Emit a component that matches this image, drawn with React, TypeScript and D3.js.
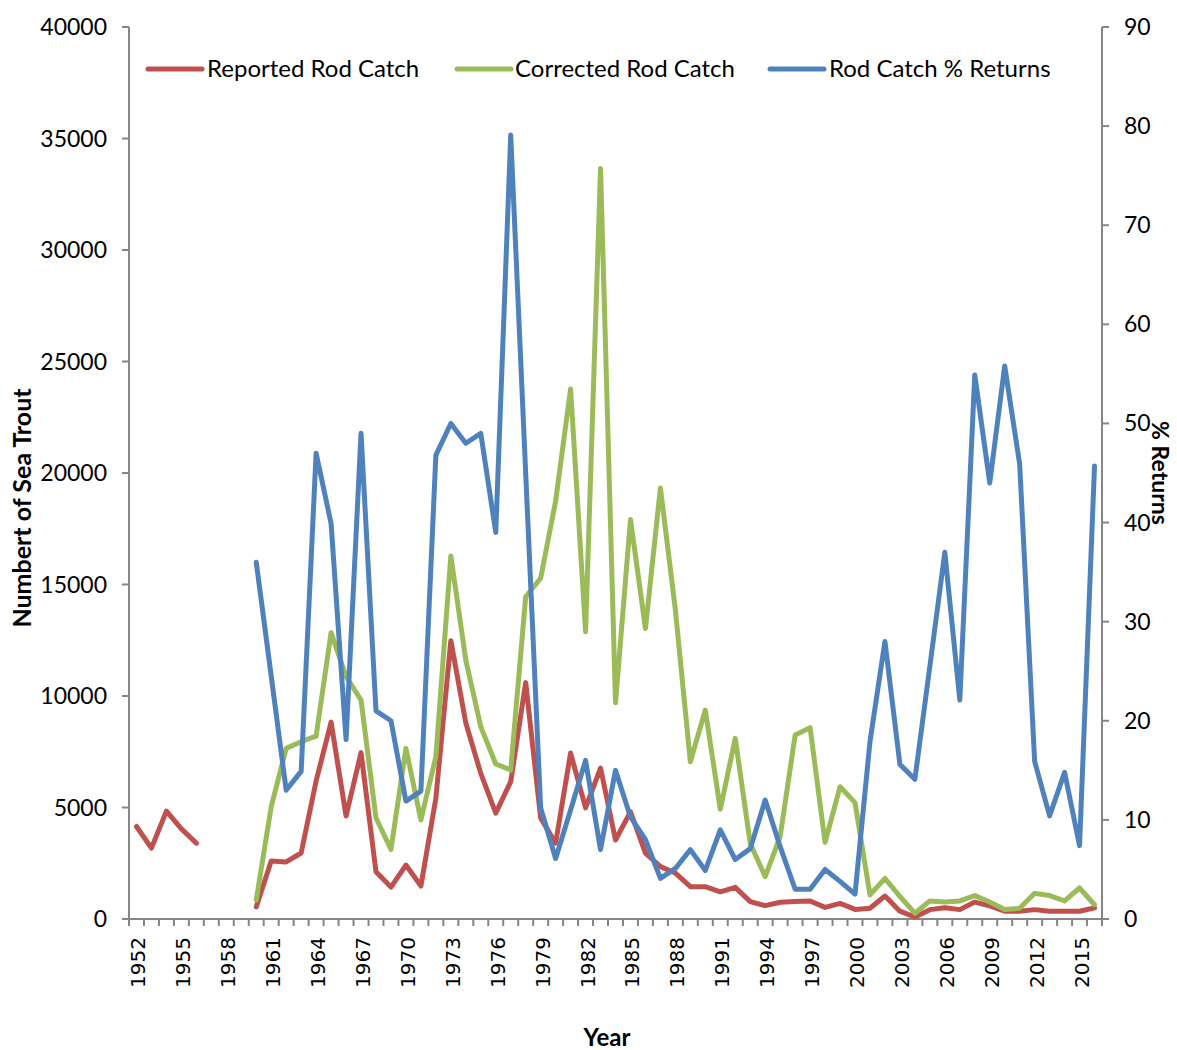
import React from "react";
import * as d3 from "d3";

const years: number[] = [
  1952, 1953, 1954, 1955, 1956, 1957, 1958, 1959, 1960, 1961, 1962, 1963, 1964,
  1965, 1966, 1967, 1968, 1969, 1970, 1971, 1972, 1973, 1974, 1975, 1976, 1977,
  1978, 1979, 1980, 1981, 1982, 1983, 1984, 1985, 1986, 1987, 1988, 1989, 1990,
  1991, 1992, 1993, 1994, 1995, 1996, 1997, 1998, 1999, 2000, 2001, 2002, 2003,
  2004, 2005, 2006, 2007, 2008, 2009, 2010, 2011, 2012, 2013, 2014, 2015, 2016,
];

const reported: (number | null)[] = [
  4150, 3180, 4840, 4040, 3400, null, null, null, 540, 2600, 2560, 2960, 6190,
  8830, 4620, 7460, 2120, 1430, 2420, 1480, 5420, 12480, 8790, 6530, 4750, 6160,
  10600, 4530, 3400, 7440, 4980, 6770, 3540, 4810, 2950, 2350, 2060, 1450, 1450,
  1220, 1420, 780, 600, 750, 780, 810, 520, 700, 430, 480, 1030, 350,
  90, 420, 500, 420, 760, 590, 350, 350, 420, 350, 350, 350, 500,
];

const corrected: (number | null)[] = [
  null, null, null, null, null, null, null, null, 850, 5040, 7650, 7950, 8200,
  12840, 10870, 9820, 4530, 3120, 7650, 4440, 7280, 16280, 11610, 8620, 6950, 6680,
  14450, 15280, 18740, 23770, 12880, 33660, 9700, 17920, 13030, 19330, 13860, 7050, 9370,
  4920, 8100, 3390, 1900, 3690, 8250, 8580, 3440, 5930, 5220, 1080, 1820, 1010,
  260, 810, 760, 810, 1050, 760, 430, 480, 1150, 1050, 810, 1390, 640,
];

const returnsPct: (number | null)[] = [
  null, null, null, null, null, null, null, null, 36.0, 24.5, 13.0, 14.9, 47.0,
  39.9, 18.1, 49.0, 21.0, 20.0, 11.9, 12.9, 46.8, 50.0, 48.0, 49.0, 39.0, 79.1,
  45.0, 11.2, 6.1, 11.0, 16.0, 7.0, 15.0, 10.3, 8.0, 4.1, 5.1, 7.0, 4.9,
  9.0, 6.0, 7.1, 12.0, 7.3, 3.0, 3.0, 5.0, 3.8, 2.5, 17.9, 28.0, 15.6,
  14.1, 25.5, 37.0, 22.1, 54.9, 44.0, 55.8, 45.9, 15.9, 10.4, 14.8, 7.4, 45.7,
];

const yearTickLabels: number[] = [
  1952, 1955, 1958, 1961, 1964, 1967, 1970, 1973, 1976, 1979, 1982, 1985, 1988,
  1991, 1994, 1997, 2000, 2003, 2006, 2009, 2012, 2015,
];
const leftTicks: number[] = [0, 5000, 10000, 15000, 20000, 25000, 30000, 35000, 40000];
const rightTicks: number[] = [0, 10, 20, 30, 40, 50, 60, 70, 80, 90];

const seriesNames = ["Reported Rod Catch", "Corrected Rod Catch", "Rod Catch % Returns"];
const seriesColors = ["#C0504D", "#9BBB59", "#4F81BD"];

const W = 1177;
const H = 1050;
const plotL = 129;
const plotR = 1102;
const plotT = 27;
const plotB = 919;
const axisColor = "#868686";
const font = "Lato, 'Liberation Sans', sans-serif";

export default function App() {
  const x = d3.scaleBand<number>().domain(years).range([plotL, plotR]).padding(0);
  const bw = x.bandwidth();
  const cx = (yr: number) => (x(yr) as number) + bw / 2;
  const yL = d3.scaleLinear().domain([0, 40000]).range([plotB, plotT]);
  const yR = d3.scaleLinear().domain([0, 90]).range([plotB, plotT]);

  const mk = (vals: (number | null)[], sc: d3.ScaleLinear<number, number>) =>
    d3
      .line<number>()
      .defined((_, i) => vals[i] !== null)
      .x((yr) => cx(yr))
      .y((_, i) => sc(vals[i] as number))(years) as string;

  const paths = [mk(reported, yL), mk(corrected, yL), mk(returnsPct, yR)];

  const boundaries = years.map((yr) => x(yr) as number).concat([plotR]);

  const legendItems = [
    { lx: 148, tx: 207 },
    { lx: 457, tx: 515 },
    { lx: 770, tx: 829 },
  ];

  return (
    <svg
      width={W}
      height={H}
      style={{ position: "absolute", left: 0, top: 0, background: "#fff" }}
      fontFamily={font}
    >
      {/* axes */}
      <line x1={plotL} x2={plotL} y1={plotT} y2={plotB} stroke={axisColor} strokeWidth={2} />
      <line x1={plotR} x2={plotR} y1={plotT} y2={plotB} stroke={axisColor} strokeWidth={2} />
      <line x1={plotL - 7} x2={plotR + 7} y1={plotB} y2={plotB} stroke={axisColor} strokeWidth={2} />
      {leftTicks.map((t) => (
        <g key={"l" + t}>
          <line x1={plotL - 7} x2={plotL} y1={yL(t)} y2={yL(t)} stroke={axisColor} strokeWidth={2} />
          <text x={107} y={yL(t)} dy="0.35em" textAnchor="end" fontSize={23} fill="#000">
            {t}
          </text>
        </g>
      ))}
      {rightTicks.map((t) => (
        <g key={"r" + t}>
          <line x1={plotR} x2={plotR + 7} y1={yR(t)} y2={yR(t)} stroke={axisColor} strokeWidth={2} />
          <text x={1124} y={yR(t)} dy="0.35em" textAnchor="start" fontSize={23} fill="#000">
            {t}
          </text>
        </g>
      ))}
      {boundaries.map((b, i) => (
        <line key={"b" + i} x1={b} x2={b} y1={plotB} y2={plotB + 7} stroke={axisColor} strokeWidth={2} />
      ))}
      {yearTickLabels.map((yr) => (
        <text
          key={"y" + yr}
          transform={`translate(${cx(yr) + 9},937) rotate(-90)`}
          textAnchor="end"
          fontSize={20}
          fontFamily="'DejaVu Sans', sans-serif"
          fill="#000"
        >
          {yr}
        </text>
      ))}

      {/* series */}
      {paths.map((d, i) => (
        <path
          key={"p" + i}
          d={d}
          fill="none"
          stroke={seriesColors[i]}
          strokeWidth={5}
          strokeLinejoin="round"
          strokeLinecap="round"
        />
      ))}

      {/* legend */}
      {legendItems.map((it, i) => (
        <g key={"lg" + i}>
          <line
            x1={it.lx}
            x2={it.lx + 54}
            y1={69}
            y2={69}
            stroke={seriesColors[i]}
            strokeWidth={5}
            strokeLinecap="round"
          />
          <text x={it.tx} y={69} dy="0.35em" fontSize={24} fill="#000">
            {seriesNames[i]}
          </text>
        </g>
      ))}

      {/* axis titles */}
      <text
        transform="translate(31,508) rotate(-90)"
        textAnchor="middle"
        fontSize={25}
        fontWeight="bold"
        fill="#000"
      >
        Numbert of Sea Trout
      </text>
      <text
        transform="translate(1152,473) rotate(90)"
        textAnchor="middle"
        fontSize={23}
        fontWeight="bold"
        fill="#000"
      >
        % Returns
      </text>
      <text x={607} y={1046} textAnchor="middle" fontSize={24} fontWeight="bold" fill="#000">
        Year
      </text>
    </svg>
  );
}
